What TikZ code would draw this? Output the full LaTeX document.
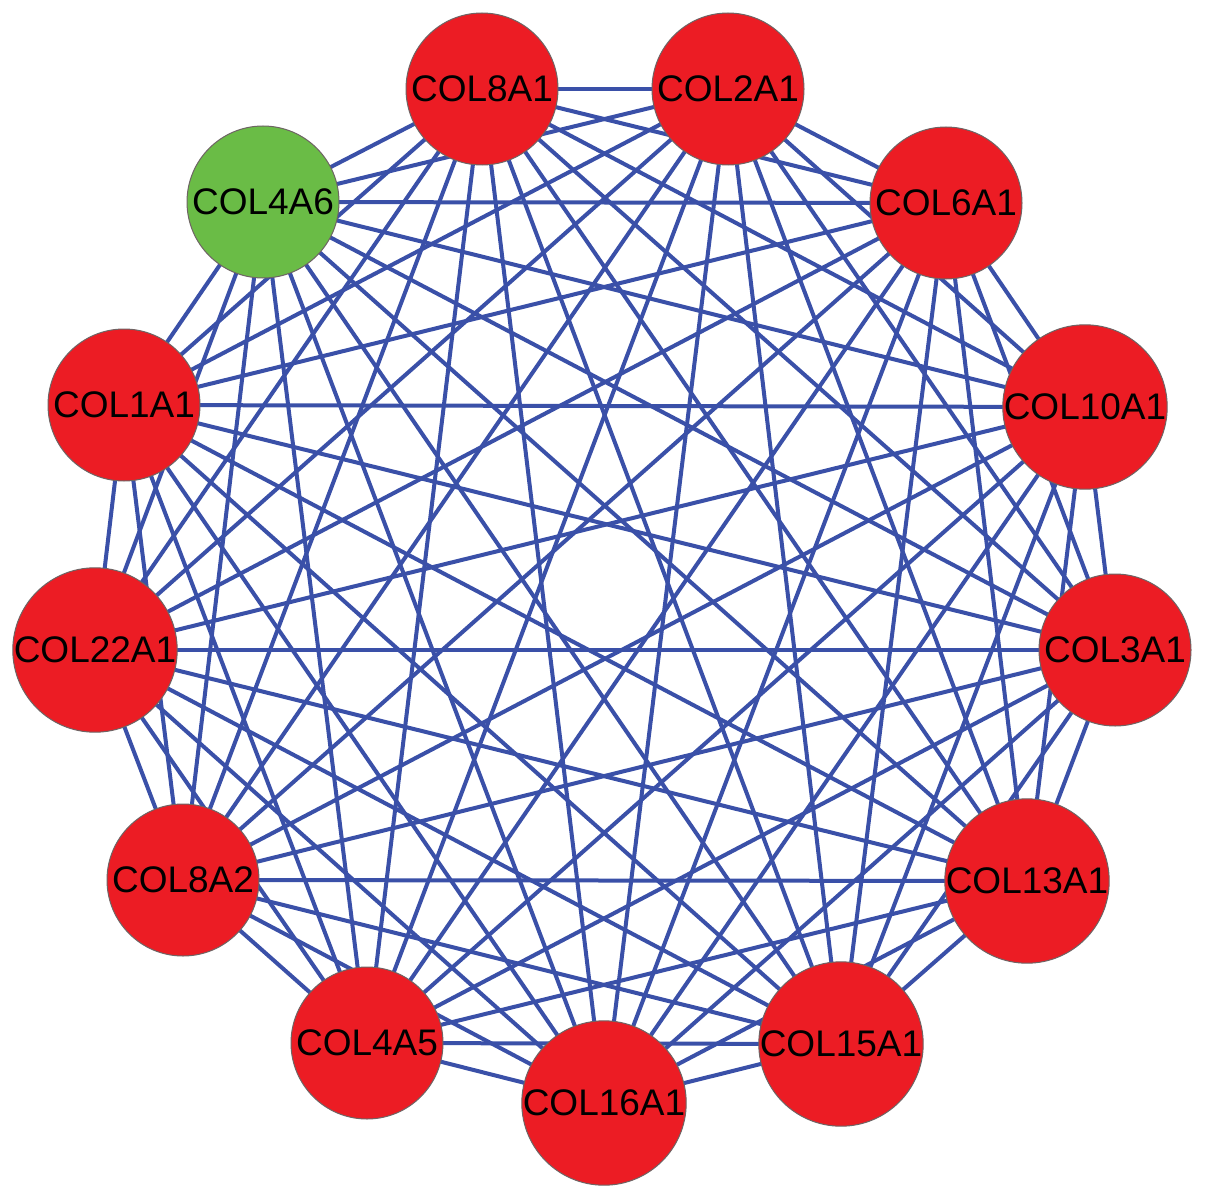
\documentclass[tikz,border=0pt]{standalone}
\usepackage{fontspec}
\setmainfont{Liberation Sans}
\usetikzlibrary{backgrounds}
\definecolor{nodered}{RGB}{236,28,36}
\definecolor{nodegreen}{RGB}{106,188,70}
\definecolor{nodeborder}{RGB}{110,100,100}
\definecolor{edgeblue}{RGB}{58,80,168}
\begin{document}
\begin{tikzpicture}[x=0.5pt,y=-0.5pt,
  gene/.style={circle,draw=nodeborder,line width=0.5pt,fill=nodered,minimum size=76pt,inner sep=0pt,font=\fontsize{18.5}{20}\selectfont,text=black},
  link/.style={draw=edgeblue,line width=2pt}]
\useasboundingbox (0,0) rectangle (1205,1193);
\node[gene] (n1) at (482,89) {COL8A1};
\node[gene] (n2) at (728,89) {COL2A1};
\node[gene] (n3) at (946,203) {COL6A1};
\node[gene] (n4) at (1085,407) {COL10A1};
\node[gene] (n5) at (1115,650) {COL3A1};
\node[gene] (n6) at (1027,881) {COL13A1};
\node[gene] (n7) at (841,1044) {COL15A1};
\node[gene] (n8) at (604,1103) {COL16A1};
\node[gene] (n9) at (367,1043) {COL4A5};
\node[gene] (n10) at (183,880) {COL8A2};
\node[gene] (n11) at (95,650) {COL22A1};
\node[gene] (n12) at (124,405) {COL1A1};
\node[gene,fill=nodegreen] (n13) at (263,202) {COL4A6};
\begin{scope}[on background layer]
\fill[white] (0,0) rectangle (1205,1193);
\foreach \i in {1,...,12}{
  \pgfmathtruncatemacro\s{\i+1}
  \foreach \j in {\s,...,13}{
    \draw[link] (n\i.center) -- (n\j.center);
  }
}
\end{scope}
\end{tikzpicture}
\end{document}
